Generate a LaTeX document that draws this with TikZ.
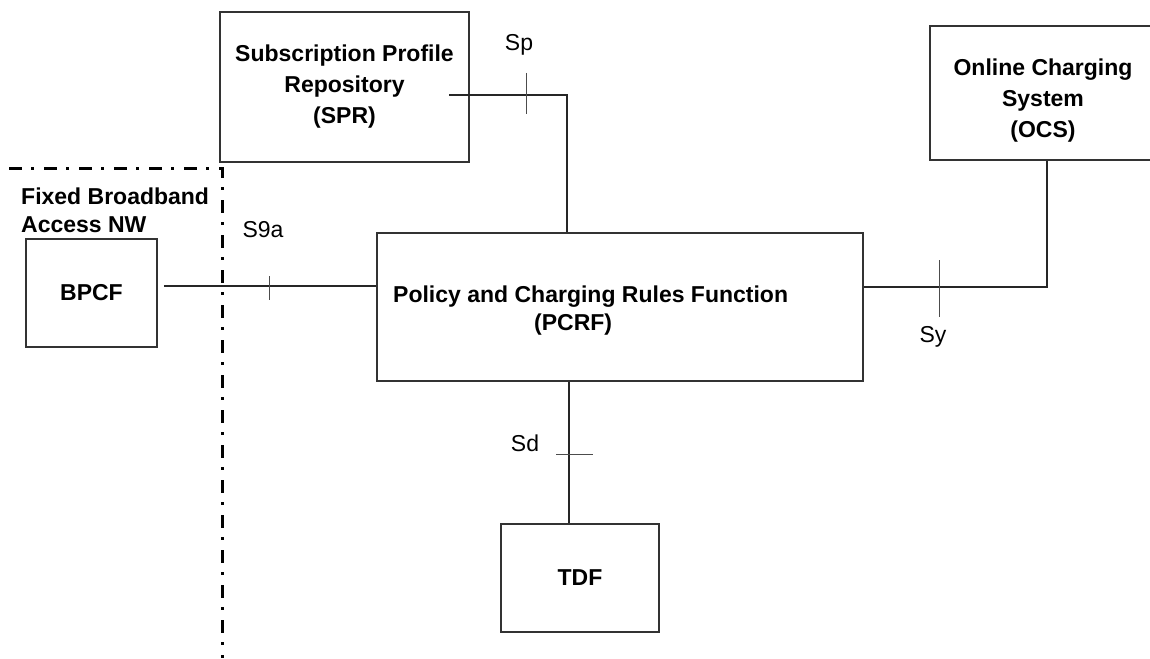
\documentclass[tikz,border=0pt]{standalone}
\usepackage{fontspec}
\setmainfont{Liberation Sans}
\usetikzlibrary{calc}

\begin{document}
\begin{tikzpicture}[x=1pt, y=-1pt,
  fbox/.style={draw=black!80, line width=1.6pt, inner sep=0pt, align=center,
               font=\fontsize{23}{31}\selectfont\bfseries},
  btext/.style={inner sep=0pt, align=center, font=\fontsize{23}{31}\selectfont\bfseries},
  link/.style={black!85, line width=1.3pt},
  tick/.style={black!70, line width=1pt},
  ref/.style={inner sep=0pt, font=\fontsize{23}{28}\selectfont},
  border/.style={black, line width=3pt, dash pattern=on 13pt off 9pt on 3pt off 10pt},
]
  \useasboundingbox (0,0) rectangle (1150,658);
  \clip (0,0) rectangle (1150,658);
  % --- network boundary ---
  \coordinate (nwcorner) at (222,168);
  \draw[border] (9,168) -- (nwcorner) -- (222,658);
  \node[ref, font=\fontsize{23}{28}\selectfont\bfseries, align=left, anchor=north west]
    (fbnw) at (21,188) {Fixed Broadband\\Access NW};
  % --- boxes ---
  \node[fbox, minimum width=249pt, minimum height=150pt] (spr) at (344.5,87)
    {Subscription Profile\\Repository\\(SPR)};
  \node[fbox, minimum width=234pt, minimum height=134pt] (ocs) at (1047,93) {};
  \node[btext] (ocstxt) at (1043,101) {Online Charging\\System\\(OCS)};
  \node[fbox, minimum width=131pt, minimum height=108pt] (bpcf) at (91.5,293) {BPCF};
  \node[fbox, minimum width=486pt, minimum height=148pt] (pcrf) at (620,307) {};
  \node[btext, align=left, anchor=west, font=\fontsize{23}{28}\selectfont\bfseries]
    (pcrftxt) at (393,311) {Policy and Charging Rules Function\\\hspace*{141pt}(PCRF)};
  \node[fbox, minimum width=158pt, minimum height=108pt] (tdf) at (580,578) {TDF};
  % --- reference points ---
  \coordinate (sprin) at (449,95);
  \draw[link] ([shift={(6pt,7pt)}]bpcf.east) -- ([yshift=21pt]pcrf.west);
  \draw[link] (sprin) -| ([xshift=-53pt]pcrf.north);
  \draw[link] (ocs.south) |- ([yshift=20pt]pcrf.east);
  \draw[link] ([xshift=-51pt]pcrf.south) -- ([xshift=-11pt]tdf.north);
  % ticks
  \draw[tick] (269,276) -- (269,300);
  \draw[tick] (526,73) -- (526,114);
  \draw[tick] (939,260) -- (939,317);
  \draw[tick] (556,454) -- (593,454);
  \node[ref] (s9a) at (263,230) {S9a};
  \node[ref] (sp) at (519,45) {Sp};
  \node[ref] (sy) at (933,337) {Sy};
  \node[ref] (sd) at (525,443) {Sd};
\end{tikzpicture}
\end{document}
